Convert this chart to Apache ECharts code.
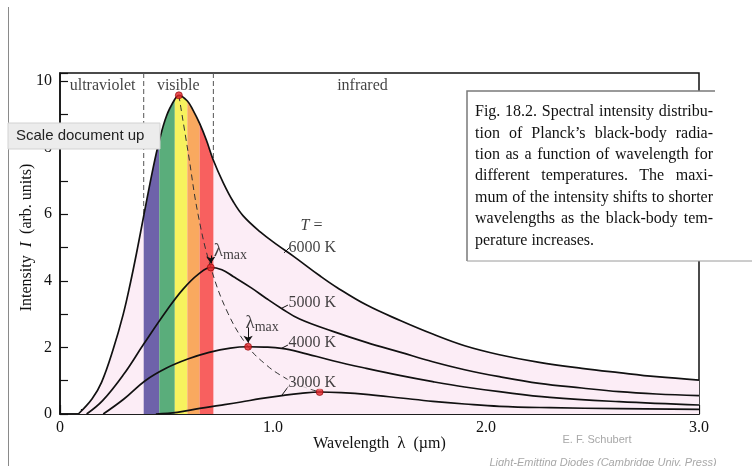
<!DOCTYPE html>
<html>
<head>
<meta charset="utf-8">
<script src="https://cdn.jsdelivr.net/npm/echarts@6/dist/echarts.min.js"></script>
<style>
html, body { margin: 0; padding: 0; background: #fff; }
#chart { width: 752px; height: 466px; }
</style>
</head>
<body>
<div id="chart"></div>
<script>
// intensity curves: [wavelength in µm, intensity arb. units]
const curve6000 = [[0.086,0],[0.15,0.45],[0.195,0.95],[0.25,1.95],[0.297,3.0],[0.331,3.95],[0.363,4.95],[0.393,5.95],
  [0.4375,7.4],[0.466,8.2],[0.5,8.95],[0.539,9.45],[0.558,9.57],[0.598,9.4],[0.625,9.12],[0.656,8.72],
  [0.6875,8.22],[0.72,7.62],[0.766,6.95],[0.813,6.38],[0.86,5.95],[0.94,5.47],[1.02,5.08],[1.1,4.72],
  [1.22,4.15],[1.3,3.8],[1.44,3.27],[1.6,2.8],[1.75,2.4],[1.9,2.05],[2.063,1.78],[2.25,1.55],[2.45,1.37],
  [2.625,1.24],[2.8,1.12],[3.0,1.02]]
const curve5000 = [[0.125,0],[0.2,0.4],[0.3,1.2],[0.393,2.1],[0.5,3.1],[0.578,3.75],[0.65,4.2],[0.708,4.4],
  [0.76,4.33],[0.813,4.13],[0.9,3.78],[0.969,3.47],[1.04,3.17],[1.125,2.85],[1.281,2.48],[1.438,2.15],
  [1.6,1.85],[1.75,1.57],[1.9,1.33],[2.063,1.12],[2.25,0.92],[2.45,0.78],[2.625,0.67],[2.8,0.6],[3.0,0.55]]
const curve4000 = [[0.203,0],[0.3,0.45],[0.4,1.0],[0.5,1.38],[0.6,1.65],[0.7,1.85],[0.8,1.98],[0.883,2.02],
  [0.96,2.01],[1.04,1.97],[1.125,1.86],[1.281,1.6],[1.438,1.37],[1.6,1.15],[1.75,0.97],[1.9,0.81],
  [2.063,0.67],[2.3,0.5],[2.625,0.37],[3.0,0.27]]
const curve3000 = [[0.45,0],[0.55,0.05],[0.656,0.17],[0.75,0.26],[0.85,0.36],[0.94,0.46],[1.05,0.56],[1.13,0.62],
  [1.219,0.66],[1.32,0.64],[1.45,0.58],[1.6,0.48],[1.75,0.38],[1.9,0.3],[2.063,0.23],[2.3,0.19],
  [2.625,0.16],[3.0,0.14]]
const peaks = [[0.558,9.57],[0.708,4.4],[0.883,2.02],[1.219,0.66]]
const wienPath = [[0.558,9.57],[0.603,7.8],[0.648,6.0],[0.708,4.4],[0.789,3.02],[0.883,2.02],[0.969,1.47],
  [1.047,1.12],[1.13,0.85],[1.219,0.66]]
const bandEdges = [0.393, 0.466, 0.539, 0.598, 0.656, 0.72]
const tempNames = ['6000 K', '5000 K', '4000 K', '3000 K']
const regionNames = ['ultraviolet', 'visible', 'infrared']
const yTop = 10.24

const captionLines = [
  'Fig. 18.2. Spectral intensity distribu-',
  'tion of Planck\u2019s black-body radia-',
  'tion as a function of wavelength for',
  'different temperatures. The maxi-',
  'mum of the intensity shifts to shorter',
  'wavelengths as the black-body tem-',
  'perature increases.'
]

const serif = '"Liberation Serif", "Times New Roman", serif'
const bandColors = ['#6e62aa', '#5aad7b', '#f7f25e', '#f9a95f', '#f8605f']

// where the 6000 K curve sits at a given x (only used at band edges, which are in the data)
function at6000(x) {
  const p = curve6000.find(d => d[0] === x)
  return p ? p[1] : 0
}

// justified caption words, laid out with canvas text metrics
const ctx = document.createElement('canvas').getContext('2d')
ctx.font = '16px ' + serif
const capLeft = 475, capRight = 713, capTop = 112, capStep = 21.4
const captionTexts = []
captionLines.forEach((line, i) => {
  const y = capTop + i * capStep
  const words = line.split(' ')
  if (i === captionLines.length - 1) {
    captionTexts.push({ type: 'text', x: capLeft, y: y, z: 101,
      style: { text: line, font: '16px ' + serif, fill: '#111', textVerticalAlign: 'middle', verticalAlign: 'middle' } })
    return
  }
  const widths = words.map(w => ctx.measureText(w).width)
  const total = widths.reduce((a, b) => a + b, 0)
  const gap = (capRight - capLeft - total) / (words.length - 1)
  let x = capLeft
  words.forEach((w, k) => {
    captionTexts.push({ type: 'text', x: x, y: y, z: 101,
      style: { text: w, font: '16px ' + serif, fill: '#111', textVerticalAlign: 'middle', verticalAlign: 'middle' } })
    x += widths[k] + gap
  })
})

const chart = echarts.init(document.getElementById('chart'))

const bandSeries = bandColors.map((c, i) => ({
  type: 'line',
  data: curve6000.filter(p => p[0] >= bandEdges[i] && p[0] <= bandEdges[i + 1]),
  symbol: 'none',
  silent: true,
  lineStyle: { width: 0 },
  areaStyle: { color: c, opacity: 1 }
}))

const visibleLines = [bandEdges[0], bandEdges[bandEdges.length - 1]].map(x => ({
  type: 'line',
  data: [[x, yTop], [x, at6000(x)]],
  symbol: 'none',
  silent: true,
  lineStyle: { color: '#555', width: 1, type: [5, 3] }
}))

const curveSeries = [curve6000, curve5000, curve4000, curve3000].map((d, i) => ({
  name: tempNames[i],
  type: 'line',
  data: d,
  smooth: 0.4,
  symbol: 'none',
  silent: true,
  lineStyle: { color: '#111', width: 1.7 }
}))

const labelFont = { fontFamily: serif, fontSize: 16, color: '#111' }

const option = {
  animation: false,
  backgroundColor: '#fff',
  grid: { left: 60, right: 53, top: 73, bottom: 52, show: true, borderColor: '#111', borderWidth: 1.5 },
  xAxis: {
    type: 'value', min: 0, max: 3, interval: 0.5,
    name: 'Wavelength  {l|\u03bb}  (\u00b5m)', nameLocation: 'middle', nameGap: 21, nameMoveOverlap: false,
    nameTextStyle: { fontFamily: serif, fontSize: 16, color: '#111', padding: [0, 0, 0, 0], rich: { l: { fontFamily: serif, fontSize: 17, color: '#111' } } },
    axisLine: { lineStyle: { color: '#111', width: 1.5 } },
    axisTick: { inside: true, length: 9, lineStyle: { color: '#111', width: 1.2 } },
    minorTick: { show: true, splitNumber: 5, length: 5, lineStyle: { color: '#111', width: 1.2 } },
    splitLine: { show: false },
    axisLabel: {
      margin: 6, fontFamily: serif, fontSize: 16, color: '#111',
      formatter: v => v === 0 ? '0' : (Math.abs(v - Math.round(v)) < 1e-9 ? v.toFixed(1) : '')
    }
  },
  yAxis: {
    type: 'value', min: 0, max: yTop, interval: 1,
    name: 'Intensity  {i|I}  (arb. units)', nameLocation: 'middle', nameGap: 25, nameRotate: 90, nameMoveOverlap: false,
    nameTextStyle: { fontFamily: serif, fontSize: 16, color: '#111', padding: [0, 0, 0, 12], rich: { i: { fontFamily: serif, fontSize: 16, fontStyle: 'italic', color: '#111' } } },
    axisLine: { lineStyle: { color: '#111', width: 1.5 } },
    axisTick: { inside: true, length: 8, lineStyle: { color: '#111', width: 1.2 } },
    splitLine: { show: false },
    axisLabel: {
      margin: 8, fontFamily: serif, fontSize: 16, color: '#111',
      formatter: v => (v <= 10 && v % 2 === 0) ? String(v) : ''
    }
  },
  series: [
    {
      type: 'line', data: curve6000, smooth: 0.4, symbol: 'none', silent: true,
      lineStyle: { width: 0 }, areaStyle: { color: '#fcedf6', opacity: 1 }
    },
    ...bandSeries,
    ...visibleLines,
    ...curveSeries,
    {
      type: 'line', data: wienPath, smooth: 0.4, symbol: 'none', silent: true,
      lineStyle: { color: '#333', width: 1, type: [6, 4] },
      markLine: {
        silent: true, animation: false, symbol: ['none', 'none'],
        label: { show: false },
        lineStyle: { color: '#111', width: 1, type: 'solid' },
        data: [
          [{ coord: [0.708, 4.76] }, { coord: [0.708, 4.52], symbol: 'arrow', symbolSize: 7 }],
          [{ coord: [0.883, 2.6] }, { coord: [0.883, 2.14], symbol: 'arrow', symbolSize: 7 }],
          [{ coord: [1.052, 4.84] }, { coord: [1.078, 5.0] }],
          [{ coord: [1.039, 3.17] }, { coord: [1.07, 3.27] }],
          [{ coord: [1.039, 1.97] }, { coord: [1.07, 2.07] }],
          [{ coord: [1.04, 0.55] }, { coord: [1.075, 0.85] }]
        ]
      }
    },
    {
      type: 'scatter', data: peaks, symbolSize: 7, silent: true, z: 5,
      itemStyle: { color: '#e3262b', borderColor: '#8a0000', borderWidth: 0.8 }
    },
    {
      type: 'scatter', symbolSize: 0, silent: true, z: 6,
      data: [
        { name: tempNames[0], value: [1.184, 4.98] },
        { name: tempNames[1], value: [1.184, 3.33] },
        { name: tempNames[2], value: [1.184, 2.13] },
        { name: tempNames[3], value: [1.184, 0.95], label: { backgroundColor: '#fcedf6', lineHeight: 14, padding: [0, 1] } },
        { name: 'T', value: [1.181, 5.64], label: { formatter: '{i|T} =', rich: { i: { fontFamily: serif, fontSize: 16, fontStyle: 'italic', color: '#111' } } } }
      ],
      label: { show: true, position: 'inside', formatter: '{b}', ...labelFont }
    },
    {
      type: 'scatter', symbolSize: 0, silent: true, z: 6,
      data: [[0.80, 4.88], [0.949, 2.72]],
      label: {
        show: true, position: 'inside', formatter: '{l|\u03bb}{s|max}',
        rich: {
          l: { fontFamily: serif, fontSize: 19, color: '#111', lineHeight: 22 },
          s: { fontFamily: serif, fontSize: 14, color: '#111', lineHeight: 14, verticalAlign: 'bottom' }
        }
      }
    },
    {
      type: 'scatter', symbolSize: 0, silent: true, z: 6,
      data: [
        { name: regionNames[0], value: [0.2, 9.87] },
        { name: regionNames[1], value: [0.555, 9.87] },
        { name: regionNames[2], value: [1.42, 9.87] }
      ],
      label: { show: true, position: 'inside', formatter: '{b}', ...labelFont }
    }
  ],
  graphic: [
    { type: 'line', z: 99, shape: { x1: 8.5, y1: 7, x2: 8.5, y2: 466 }, style: { stroke: '#8a8a8a', lineWidth: 1 } },
    { type: 'rect', z: 100, shape: { x: 467, y: 91, width: 300, height: 170 }, style: { fill: '#fff', stroke: null } },
    { type: 'polyline', z: 100, shape: { points: [[467, 261], [467, 91], [715, 91]] }, style: { fill: null, stroke: '#7a7a7a', lineWidth: 1.5 } },
    { type: 'line', z: 100, shape: { x1: 467, y1: 261, x2: 752, y2: 261 }, style: { stroke: '#9a9a9a', lineWidth: 1 } },
    ...captionTexts,
    { type: 'rect', z: 110, shape: { x: 8, y: 123, width: 152, height: 26 }, style: { fill: '#ececec', stroke: '#d2d2d2', lineWidth: 1 } },
    { type: 'text', z: 111, x: 16, y: 136,
      style: { text: 'Scale document up', font: '15px "Liberation Sans", Arial, sans-serif', fill: '#222', textVerticalAlign: 'middle', verticalAlign: 'middle' } },
    { type: 'text', z: 100, x: 597, y: 440,
      style: { text: 'E. F. Schubert', font: '11px "Liberation Sans", Arial, sans-serif', fill: '#a8a8a8', textAlign: 'center', align: 'center', textVerticalAlign: 'middle', verticalAlign: 'middle' } },
    { type: 'text', z: 100, x: 603, y: 457,
      style: { text: 'Light-Emitting Diodes (Cambridge Univ. Press)', font: 'italic 11px "Liberation Sans", Arial, sans-serif', fill: '#a8a8a8', textAlign: 'center', align: 'center', textVerticalAlign: 'top', verticalAlign: 'top' } }
  ]
}

chart.setOption(option)
</script>
</body>
</html>
